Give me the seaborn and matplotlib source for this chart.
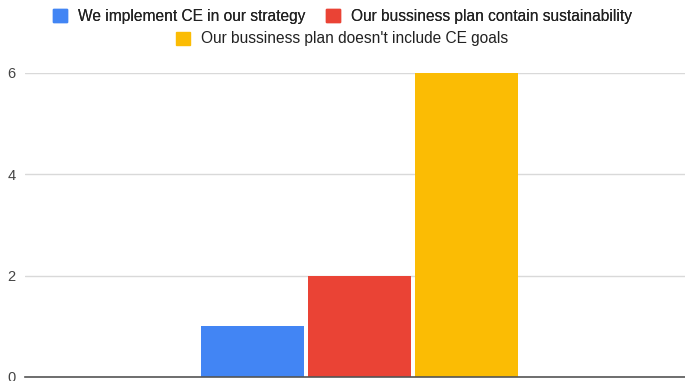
import matplotlib
matplotlib.use("Agg")
import matplotlib.pyplot as plt
import matplotlib.patches as mpatches
import seaborn as sns
import pandas as pd

series = [
    "We implement CE in our strategy",
    "Our bussiness plan contain sustainability",
    "Our bussiness plan doesn't include CE goals",
]
values = [1, 2, 6]
colors = ["#4285F4", "#EA4335", "#FBBC04"]
yticks = [0, 2, 4, 6]

df = pd.DataFrame({"group": [""] * len(series), "series": series, "value": values})

sns.set_theme(style="white")
plt.rcParams["font.family"] = ["Liberation Sans", "DejaVu Sans"]

fig = plt.figure(figsize=(6.85, 3.81), dpi=100)
ax = fig.add_axes([25 / 685, 4 / 381, 660 / 685, 304 / 381])

sns.barplot(
    data=df, x="group", y="value", hue="series", hue_order=series,
    palette=colors, width=0.486, dodge=True, legend=False, ax=ax,
    linewidth=0, saturation=1,
)

# leave a thin white gap between neighbouring bars
inset = 0.003
for bar in ax.patches:
    bar.set_x(bar.get_x() + inset)
    bar.set_width(bar.get_width() - 2 * inset)

ax.set_xlim(-0.5 - 0.0068, 0.5 - 0.0068)
ax.set_ylim(0, 6)
ax.set_yticks(yticks)
ax.set_yticklabels([str(t) for t in yticks], fontsize=10.5, color="#444444")
ax.tick_params(axis="y", length=0, pad=7)
ax.set_xticks([])
ax.set_xlabel("")
ax.set_ylabel("")
ax.grid(axis="y", color="#d9d9d9", linewidth=1)
ax.set_axisbelow(True)
for side in ["top", "right", "left"]:
    ax.spines[side].set_visible(False)
ax.spines["bottom"].set_color("#555555")
ax.spines["bottom"].set_linewidth(1.2)
ax.spines["bottom"].set_zorder(5)

handles = [mpatches.Patch(color=c, label=s) for c, s in zip(colors, series)]
leg_kw = dict(frameon=False, fontsize=11.2, handlelength=0.9, handleheight=0.9,
              handletextpad=0.7, columnspacing=1.3, labelcolor="#222222")
leg1 = fig.legend(handles=handles[:2], ncol=2, loc="center",
                  bbox_to_anchor=(0.5, 1 - 16 / 381), **leg_kw)
fig.add_artist(leg1)
fig.legend(handles=handles[2:], ncol=1, loc="center",
           bbox_to_anchor=(0.5, 1 - 39 / 381), **leg_kw)

fig.savefig("out.png", dpi=100)
